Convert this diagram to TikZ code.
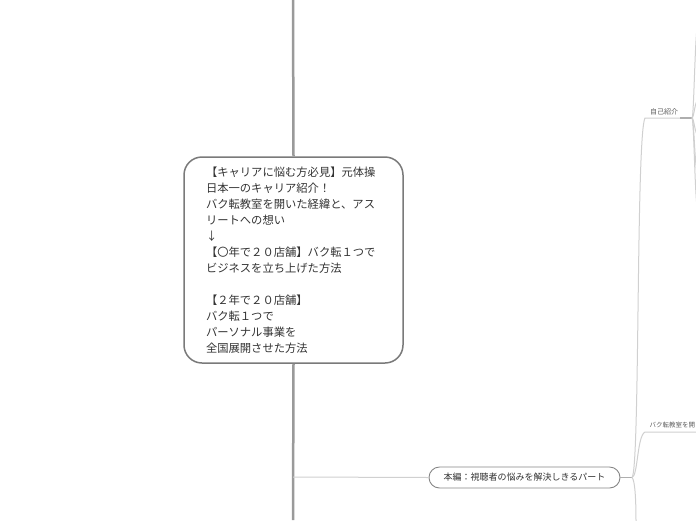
\documentclass[tikz,border=0pt]{standalone}
\usepackage{fontspec}
\newfontfamily\jp{Noto Sans CJK JP}
\definecolor{trunk}{HTML}{9A9A9A}
\definecolor{boxline}{HTML}{7A7A7A}
\definecolor{thin}{HTML}{D0D0D0}
\definecolor{txt}{HTML}{333333}
\begin{document}
\begin{tikzpicture}[x=1pt,y=-1pt,
  mainbox/.style={draw=boxline,line width=1.5pt,rounded corners=18pt,fill=white,
    text width=175pt,inner xsep=22pt,inner ysep=0pt,minimum height=206pt,align=left,
    font=\jp\fontsize{11.3pt}{16pt}\selectfont,text=txt},
  pill/.style={draw=boxline!90,line width=0.9pt,rounded corners=10.5pt,fill=white,
    minimum width=191pt,minimum height=21pt,inner sep=0pt,
    font=\jp\fontsize{9pt}{11pt}\selectfont,text=txt},
  small/.style={font=\jp\fontsize{7pt}{8pt}\selectfont,text=txt!80,inner sep=0pt},
  trunkline/.style={draw=trunk,line width=2.5pt},
  thinline/.style={draw=thin,line width=1pt},
  stub/.style={draw=trunk!80,line width=1.5pt}]
\clip (0,0) rectangle (696,520);
\fill[white] (0,0) rectangle (696,520);

% trunk
\coordinate (top) at (293,0);
\coordinate (bot) at (293,520);
\coordinate (tee) at (293,477);
\node[mainbox] (main) at (293.5,260) {%
【キャリアに悩む方必見】元体操\\
日本一のキャリア紹介！\\
バク転教室を開いた経緯と、アス\\
リートへの想い\\
↓\\
【〇年で２０店舗】バク転１つで\\
ビジネスを立ち上げた方法\\[16pt]
【２年で２０店舗】\\
バク転１つで\\
パーソナル事業を\\
全国展開させた方法};
\draw[trunkline] (top) -- (main.north);
\draw[trunkline] (main.south) -- (bot);

% main branch
\node[pill] (honpen) at (524.5,477.5) {本編：視聴者の悩みを解決しきるパート};
\draw[thinline] (tee) -- (honpen.west);
\coordinate (j1) at (632,477.5);
\draw[stub] (honpen.east) -- (j1);

% sub branch: self intro
\coordinate (si0) at (645,118);
\coordinate (si1) at (680,118);
\coordinate (j2) at (692,118);
\node[small,anchor=south west] (jiko) at (650,115) {自己紹介};
\draw[thinline] (j1) .. controls (640,470) and (636,135) .. (si0) -- (si1);
\draw[stub] (si1) -- (j2);

% sub branch: バク転教室
\coordinate (bk0) at (645,432);
\coordinate (bk1) at (700,432);
\node[small,anchor=south west,font=\jp\fontsize{6.5pt}{8pt}\selectfont] (baku) at (649.5,428) {バク転教室を開};
\draw[thinline] (j1) .. controls (638,476) and (637,436) .. (bk0) -- (bk1);

% sub branch going down
\coordinate (dn) at (636,522);
\draw[thinline] (j1) .. controls (635,480) and (636,500) .. (dn);

% fan from j2 to the right edge
\foreach \yy/\nm in {25/a,100/b,135/c,175/d,210/e}{
  \coordinate (f\nm) at (698,\yy);
  \draw[thinline] (j2) .. controls (694,118) and (695,\yy) .. (f\nm);
}
\end{tikzpicture}
\end{document}
